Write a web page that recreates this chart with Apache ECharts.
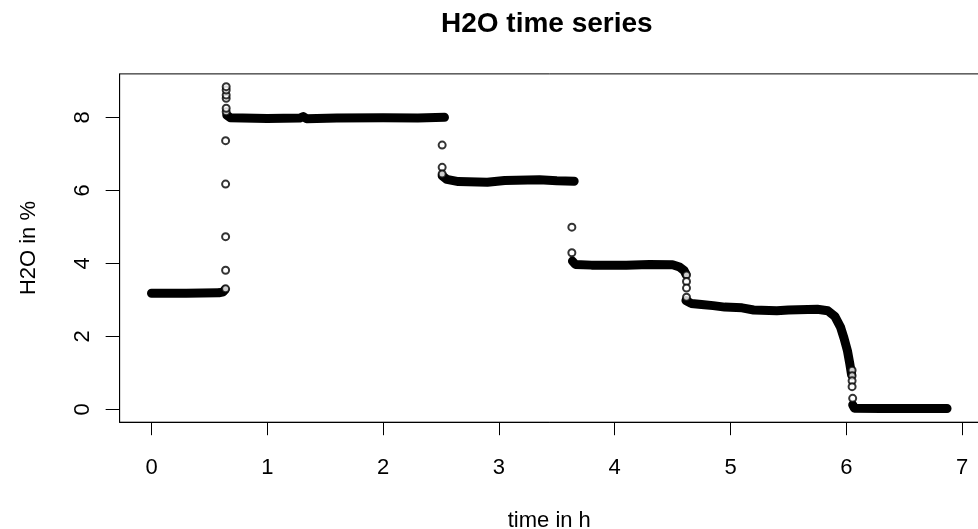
<!DOCTYPE html>
<html>
<head>
<meta charset="utf-8">
<script src="https://cdn.jsdelivr.net/npm/echarts@6/dist/echarts.min.js"></script>
<style>
  html, body { margin: 0; padding: 0; background: #fff; }
  #box { width: 978px; height: 529px; }
</style>
</head>
<body>
<div id="box"></div>
<script>
// dense runs of points (they overlap into a solid band) : [time h, H2O %]
const band1 = [[0, 3.18], [0.3, 3.18], [0.58, 3.19], [0.62, 3.22], [0.635, 3.28]];
const band2 = [[0.65, 8.06], [0.68, 7.99], [1.0, 7.97], [1.28, 7.98], [1.31, 8.02], [1.34, 7.96], [1.6, 7.98], [2.0, 7.99], [2.3, 7.98], [2.53, 8.0]];
const band3 = [[2.51, 6.40], [2.55, 6.30], [2.65, 6.24], [2.9, 6.22], [3.05, 6.27], [3.35, 6.29], [3.5, 6.26], [3.65, 6.25]];
const band4 = [[3.635, 4.06], [3.66, 3.97], [3.8, 3.95], [4.1, 3.95], [4.3, 3.97], [4.5, 3.96], [4.56, 3.90], [4.6, 3.80], [4.615, 3.70]];
const band5 = [[4.615, 2.98], [4.66, 2.90], [4.75, 2.87], [4.85, 2.84], [4.95, 2.80], [5.1, 2.78], [5.2, 2.72], [5.4, 2.70], [5.5, 2.72], [5.75, 2.74], [5.84, 2.70], [5.9, 2.55], [5.95, 2.25], [5.98, 1.95], [6.01, 1.60], [6.03, 1.25], [6.045, 0.95]];
const band6 = [[6.055, 0.12], [6.07, 0.03], [6.3, 0.02], [6.6, 0.02], [6.87, 0.02]];
// sparse points in the jumps, drawn as open circles
const jumpPoints = [
  [0.64, 3.30], [0.64, 3.81], [0.64, 4.73], [0.64, 6.17], [0.64, 7.36],
  [0.645, 8.15], [0.645, 8.25], [0.645, 8.52], [0.645, 8.61], [0.645, 8.75], [0.645, 8.84],
  [2.51, 7.24], [2.51, 6.63], [2.51, 6.45],
  [3.63, 4.99], [3.63, 4.29],
  [4.62, 3.68], [4.62, 3.50], [4.62, 3.32], [4.62, 3.07],
  [6.05, 1.07], [6.05, 0.92], [6.05, 0.78], [6.05, 0.62], [6.055, 0.30]
];
const xTicks = [0, 1, 2, 3, 4, 5, 6, 7];
const yTicks = [0, 2, 4, 6, 8];

const font = "'Liberation Sans', Arial, sans-serif";

function bandSeries(data) {
  return {
    type: 'line',
    data: data,
    showSymbol: false,
    symbol: 'none',
    silent: true,
    lineStyle: { color: '#000', width: 9, cap: 'round', join: 'round' },
    z: 2
  };
}

let myecharts = echarts.init(document.getElementById('box'));
let option = {
  animation: false,
  backgroundColor: '#fff',
  title: {
    text: 'H2O time series',
    left: 436,
    top: 5,
    textStyle: { fontFamily: font, fontSize: 28, fontWeight: 'bold', color: '#000' }
  },
  grid: {
    left: 119.65,
    right: -0.9,
    top: 73.9,
    bottom: 106.8,
    outerBoundsMode: 'none',
    containLabel: false,
    show: true,
    borderColor: '#000',
    borderWidth: 1
  },
  xAxis: {
    type: 'value',
    min: -0.275,
    max: 7.145,
    name: 'time in h',
    nameLocation: 'middle',
    nameGap: 88,
    nameTextStyle: { fontFamily: font, fontSize: 22, color: '#000' },
    axisLine: { show: true, onZero: false, lineStyle: { color: '#000', width: 1 } },
    axisTick: { show: true, length: 13, customValues: xTicks, lineStyle: { color: '#000' } },
    axisLabel: { customValues: xTicks, margin: 35, fontFamily: font, fontSize: 22, color: '#000' },
    splitLine: { show: false }
  },
  yAxis: {
    type: 'value',
    min: -0.354,
    max: 9.19,
    name: 'H2O in %',
    nameLocation: 'middle',
    nameGap: 80,
    nameTextStyle: { fontFamily: font, fontSize: 22, color: '#000' },
    axisLine: { show: true, onZero: false, lineStyle: { color: '#000', width: 1 } },
    axisTick: { show: true, length: 14, customValues: yTicks, lineStyle: { color: '#000' } },
    axisLabel: { customValues: yTicks, rotate: 90, margin: 26, fontFamily: font, fontSize: 22, color: '#000' },
    splitLine: { show: false }
  },
  series: [
    bandSeries(band1),
    bandSeries(band2),
    bandSeries(band3),
    bandSeries(band4),
    bandSeries(band5),
    bandSeries(band6),
    {
      type: 'scatter',
      data: jumpPoints,
      symbol: 'emptyCircle',
      symbolSize: 7,
      silent: true,
      itemStyle: { color: '#000', borderColor: '#000', borderWidth: 1 },
      z: 3
    }
  ]
};
myecharts.setOption(option);

window.onresize = function () {
  myecharts.resize();
}
</script>
</body>
</html>
